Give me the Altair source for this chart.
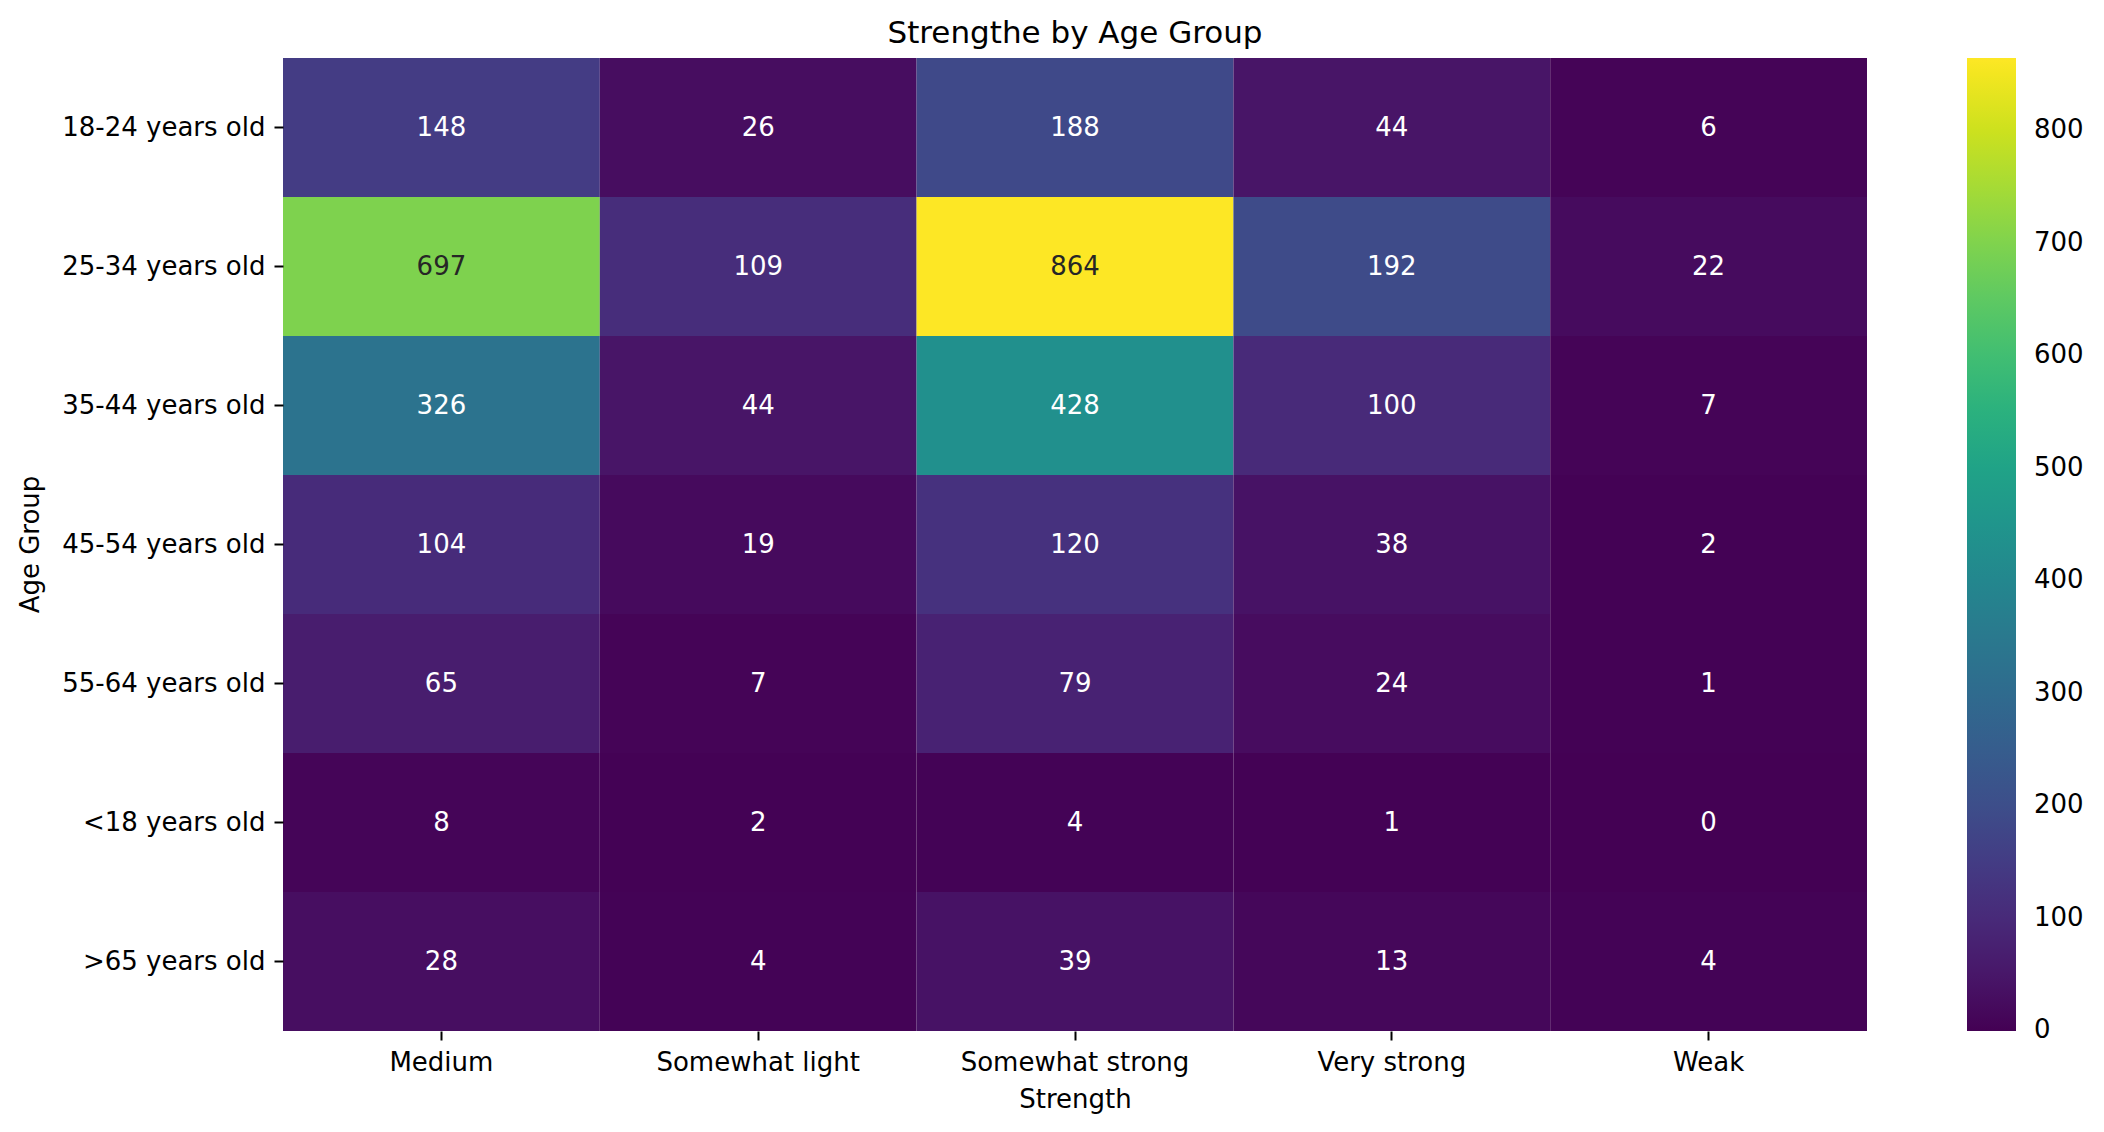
import pandas as pd
import altair as alt

# values
strengths = ["Medium", "Somewhat light", "Somewhat strong", "Very strong", "Weak"]
age_groups = ["18-24 years old", "25-34 years old", "35-44 years old",
              "45-54 years old", "55-64 years old", "<18 years old", ">65 years old"]

counts_18_24 = [148, 26, 188, 44, 6]
counts_25_34 = [697, 109, 864, 192, 22]
counts_35_44 = [326, 44, 428, 100, 7]
counts_45_54 = [104, 19, 120, 38, 2]
counts_55_64 = [65, 7, 79, 24, 1]
counts_under_18 = [8, 2, 4, 1, 0]
counts_over_65 = [28, 4, 39, 13, 4]

colorbar_ticks = [0, 100, 200, 300, 400, 500, 600, 700, 800]

rows = [counts_18_24, counts_25_34, counts_35_44, counts_45_54,
        counts_55_64, counts_under_18, counts_over_65]

records = []
for age, row in zip(age_groups, rows):
    for strength, val in zip(strengths, row):
        records.append({"Age Group": age, "Strength": strength, "Count": val})
df = pd.DataFrame(records)

vmax = int(df["Count"].max())
vmin = int(df["Count"].min())
# tiny shift below 0 keeps the "0" label centred on the colorbar end
cdomain = [vmin - 0.5, vmax]

base = alt.Chart(df).encode(
    x=alt.X("Strength:N", sort=strengths, title="Strength",
            axis=alt.Axis(labelAngle=0, titlePadding=11)),
    y=alt.Y("Age Group:N", sort=age_groups, title="Age Group",
            axis=alt.Axis(titleX=-253, titleY=486, titleBaseline="middle",
                          titleAlign="center", titleAngle=-90)),
)

cells = base.mark_rect().encode(
    color=alt.Color("Count:Q",
                    scale=alt.Scale(scheme="viridis", domain=cdomain),
                    legend=alt.Legend(title=None, orient="none",
                                      legendX=1684, legendY=0,
                                      gradientLength=973, gradientThickness=49,
                                      values=colorbar_ticks, labelOffset=18,
                                      labelFontSize=26, labelBaseline="middle",
                                      labelOverlap=False, labelColor="black")),
)

# seaborn style: dark text on bright cells, white on dark ones
labels = base.mark_text(fontSize=26, baseline="middle").encode(
    text="Count:Q",
    color=alt.condition(alt.datum.Count > 600, alt.value("#262626"), alt.value("white"))
)

chart = (cells + labels).properties(
    width=1584,
    height=973,
    title=alt.TitleParams("Strengthe by Age Group", fontSize=31, fontWeight="normal",
                          offset=8, anchor="middle", color="black"),
    autosize=alt.AutoSizeParams(type="none"),
    padding={"left": 275, "top": 50, "right": 229, "bottom": 85},
).configure(
    font="DejaVu Sans"
).configure_axis(
    labelFontSize=26,
    titleFontSize=26,
    titleFontWeight="normal",
    labelColor="black",
    titleColor="black",
    tickColor="black",
    tickSize=9,
    tickWidth=2,
    labelPadding=9,
    labelLimit=400,
    domain=False,
    grid=False,
).configure_view(
    stroke=None
)

chart.save("out.html", embed_options={"renderer": "svg", "actions": False})
